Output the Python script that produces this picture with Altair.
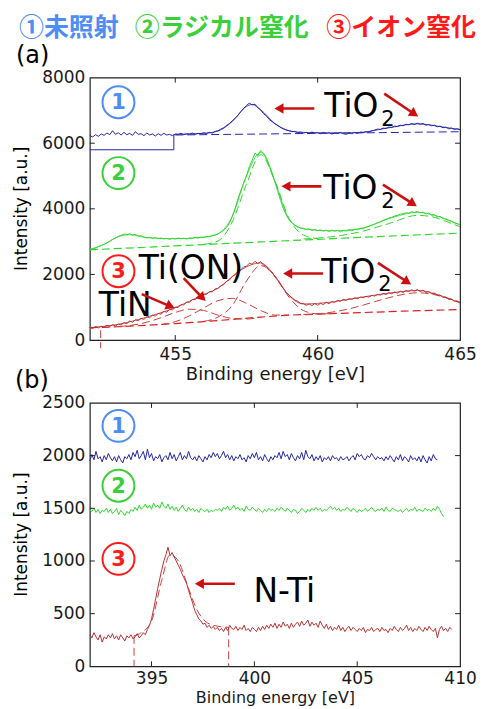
import math
import altair as alt
import pandas as pd

# ---------------- data ----------------
# panel (a): Ti 2p region, sampled every 0.1 eV from 452.0 eV
A_X0, A_STEP = 452.0, 0.1
a_blue = [
    6230, 6190, 6260, 6210, 6280, 6240, 6310, 6260, 6380, 6270,
    6320, 6250, 6330, 6260, 6300, 6240, 6350, 6270, 6290, 6230,
    6310, 6250, 6280, 6220, 6290, 6240, 6300, 6250, 6270, 6230,
    6280, 6270, 6300, 6260, 6290, 6280, 6310, 6270, 6300, 6290,
    6320, 6300, 6330, 6310, 6360, 6380, 6430, 6470, 6540, 6600,
    6680, 6760, 6850, 6960, 7060, 7150, 7220, 7170, 7190, 7080,
    7010, 6900, 6830, 6720, 6660, 6590, 6540, 6480, 6440, 6400,
    6380, 6350, 6360, 6320, 6340, 6310, 6330, 6300, 6340, 6310,
    6320, 6290, 6330, 6300, 6320, 6280, 6310, 6300, 6330, 6290,
    6270, 6310, 6290, 6330, 6300, 6340, 6320, 6350, 6340, 6380,
    6400, 6430, 6420, 6460, 6450, 6490, 6480, 6520, 6510, 6550,
    6530, 6580, 6560, 6600, 6570, 6610, 6580, 6600, 6550, 6570,
    6530, 6550, 6500, 6520, 6470, 6490, 6440, 6460, 6420, 6440,
    6410,
]
a_green = [
    2760, 2780, 2800, 2850, 2880, 2920, 2960, 3010, 3070, 3110,
    3160, 3190, 3230, 3210, 3240, 3200, 3220, 3170, 3180, 3140,
    3120, 3130, 3100, 3120, 3090, 3110, 3080, 3100, 3070, 3100,
    3080, 3110, 3090, 3100, 3080, 3110, 3100, 3130, 3110, 3140,
    3130, 3160, 3150, 3190, 3200, 3230, 3290, 3350, 3430, 3560,
    3760, 4000, 4300, 4550, 4780, 5000, 5280, 5480, 5700, 5620,
    5780, 5690, 5560, 5330, 5100, 4820, 4530, 4250, 4000, 3810,
    3660, 3560, 3500, 3450, 3420, 3400, 3370, 3390, 3340, 3370,
    3330, 3360, 3320, 3350, 3310, 3350, 3320, 3340, 3300, 3340,
    3320, 3360, 3330, 3370, 3360, 3400, 3390, 3440, 3460, 3500,
    3530, 3570, 3600, 3650, 3680, 3720, 3740, 3780, 3800, 3840,
    3850, 3880, 3870, 3910, 3890, 3920, 3880, 3900, 3850, 3870,
    3800, 3820, 3750, 3770, 3700, 3690, 3640, 3620, 3570, 3550,
    3510,
]
a_red = [
    380, 350, 410, 370, 420, 390, 450, 410, 470, 430,
    490, 460, 530, 500, 580, 540, 620, 590, 660, 630,
    710, 680, 760, 730, 810, 790, 870, 850, 930, 920,
    1000, 990, 1080, 1070, 1160, 1150, 1240, 1230, 1320, 1310,
    1400, 1390, 1480, 1470, 1560, 1570, 1660, 1690, 1790, 1830,
    1940, 1990, 2100, 2140, 2230, 2250, 2340, 2310, 2400, 2330,
    2390, 2280, 2250, 2120, 2070, 1920, 1820, 1680, 1560, 1450,
    1360, 1290, 1220, 1180, 1120, 1110, 1060, 1100, 1050, 1110,
    1060, 1120, 1080, 1150, 1110, 1170, 1150, 1210, 1180, 1240,
    1210, 1260, 1240, 1290, 1260, 1310, 1290, 1330, 1310, 1360,
    1340, 1390, 1370, 1420, 1390, 1440, 1410, 1460, 1430, 1490,
    1450, 1510, 1480, 1530, 1490, 1540, 1480, 1520, 1450, 1480,
    1410, 1430, 1360, 1370, 1300, 1310, 1240, 1250, 1180, 1190,
    1130,
]

# fitted curves / backgrounds of panel (a) as (eV, intensity) pairs
a_blue_step = [(452.0, 5800), (454.95, 5800), (454.95, 6270)]
a_blue_base = [(455.0, 6250), (465.0, 6350)]
a_blue_fit = [(455.0, 6270), (456.0, 6300), (456.5, 6370), (457.0, 6660), (457.5, 7120),
              (457.7, 7180), (458.0, 7020), (458.5, 6600), (459.0, 6380), (459.5, 6330),
              (460.5, 6310), (461.5, 6330), (462.5, 6470), (463.5, 6590), (464.5, 6480), (465.0, 6420)]
a_green_base = [(452.0, 2750), (454.0, 2830), (456.0, 2910), (458.0, 2990),
                (460.0, 3070), (462.0, 3150), (465.0, 3260)]
a_green_main = [(456.0, 2920), (456.5, 3020), (457.0, 3600), (457.5, 4750), (458.0, 5650),
                (458.5, 4850), (459.0, 3700), (459.5, 3200), (460.0, 3090)]
a_green_sat = [(459.5, 3080), (460.5, 3150), (461.5, 3300), (462.5, 3550), (463.5, 3800),
               (464.0, 3760), (464.5, 3620), (465.0, 3450)]
a_green_fit = [(452.0, 2760), (452.5, 2920), (453.0, 3150), (453.4, 3210), (454.0, 3120),
               (455.0, 3090), (456.0, 3130), (456.5, 3240), (457.0, 3770), (457.5, 5000),
               (458.0, 5720), (458.5, 4830), (459.0, 3680), (459.5, 3390), (460.5, 3330),
               (461.5, 3400), (462.5, 3700), (463.5, 3890), (464.5, 3690), (465.0, 3510)]
a_red_base = [(452.0, 375), (453.0, 405), (454.0, 450), (455.0, 500), (456.0, 560), (457.0, 630),
              (458.0, 700), (459.0, 760), (460.0, 790), (461.0, 820), (462.0, 850),
              (463.0, 880), (464.0, 905), (465.0, 930)]
a_red_tin = [(453.0, 410), (453.8, 500), (454.5, 680), (455.0, 840), (455.5, 940), (456.0, 900),
             (456.5, 760), (457.0, 660), (457.5, 640), (458.0, 700)]
a_red_tion = [(454.5, 470), (455.0, 560), (455.5, 740), (456.0, 980), (456.5, 1200), (457.0, 1270),
              (457.5, 1120), (458.0, 900), (458.5, 760), (459.0, 760)]
a_red_tio2 = [(456.0, 570), (456.5, 700), (457.0, 1050), (457.5, 1800), (458.0, 2270),
              (458.5, 1950), (459.0, 1300), (459.5, 900), (460.0, 800), (460.5, 805)]
a_red_sat = [(459.5, 780), (460.0, 800), (460.5, 850), (461.0, 930), (461.5, 1040), (462.0, 1170),
             (462.5, 1290), (463.0, 1390), (463.5, 1440), (464.0, 1400), (464.5, 1290), (465.0, 1150)]
a_red_fit = [(452.0, 380), (453.0, 480), (454.0, 700), (455.0, 990), (456.0, 1390), (456.5, 1580),
             (457.0, 1930), (457.5, 2230), (458.0, 2350), (458.5, 1950), (459.0, 1350),
             (459.5, 1100), (460.5, 1160), (461.5, 1300), (462.5, 1430), (463.5, 1510),
             (464.5, 1300), (465.0, 1130)]
a_red_vert = [(452.38, 300), (452.38, -250)]

# panel (b): N 1s region, sampled every 0.1 eV from 392.0 eV
B_X0, B_STEP = 392.0, 0.1
b_blue = [
    1950, 2010, 1960, 2040, 1970, 1990, 1940, 2000, 1960, 2020,
    1980, 1950, 1990, 1940, 2000, 1960, 1930, 1990, 1970, 2010,
    1960, 2030, 1990, 2050, 1970, 2000, 2040, 1960, 2060, 1980,
    2020, 1950, 1990, 1970, 2010, 1940, 1980, 2000, 1960, 2030,
    1970, 2010, 1950, 1990, 2030, 1960, 2000, 1970, 2040, 1980,
    1960, 1990, 1950, 2000, 1970, 1940, 1990, 1960, 2010, 1980,
    2030, 1990, 2020, 1970, 2000, 2040, 1980, 2010, 1960, 2000,
    1950, 1990, 1970, 2010, 1960, 1980, 1940, 2000, 1970, 2020,
    1980, 2030, 1960, 1990, 1950, 2010, 1970, 1940, 1990, 1960,
    2000, 1980, 2030, 1970, 2040, 1990, 2010, 1960, 2020, 1980,
    1950, 2000, 1970, 2030, 1960, 2050, 1990, 1970, 2010, 1950,
    1990, 1960, 2000, 1940, 1980, 1960, 1990, 1950, 2000, 1970,
    1980, 1950, 1990, 1960, 1970, 1990, 1950, 1980, 2000, 1960,
    2020, 1990, 2010, 1970, 1960, 2000, 1980, 2020, 1990, 1960,
    1990, 1970, 1980, 1950, 1990, 1960, 2000, 1970, 1940, 1990,
    1960, 2010, 1950, 1990, 1970, 1940, 2000, 1960, 1980, 1950,
    1990, 1940, 2000, 1960, 1930, 1990, 1950, 2010, 1970, 1960,
]
b_green = [
    1480, 1470, 1500, 1460, 1490, 1450, 1480, 1470, 1500, 1460,
    1490, 1450, 1470, 1500, 1440, 1480, 1460, 1430, 1470, 1450,
    1490, 1470, 1510, 1480, 1530, 1490, 1510, 1540, 1500, 1530,
    1490, 1550, 1510, 1530, 1500, 1560, 1520, 1500, 1540, 1490,
    1520, 1480, 1510, 1470, 1500, 1530, 1490, 1470, 1510, 1480,
    1500, 1470, 1490, 1460, 1500, 1480, 1470, 1490, 1460, 1480,
    1470, 1490, 1480, 1500, 1470, 1510, 1490, 1520, 1480, 1500,
    1530, 1490, 1510, 1480, 1500, 1470, 1520, 1490, 1480, 1510,
    1490, 1470, 1500, 1480, 1460, 1490, 1470, 1500, 1480, 1490,
    1470, 1500, 1480, 1510, 1490, 1470, 1500, 1480, 1460, 1490,
    1480, 1450, 1470, 1500, 1480, 1460, 1490, 1470, 1500, 1480,
    1510, 1480, 1500, 1470, 1490, 1480, 1500, 1520, 1490, 1510,
    1480, 1500, 1470, 1490, 1480, 1510, 1490, 1470, 1500, 1480,
    1460, 1490, 1470, 1480, 1500, 1470, 1490, 1510, 1480, 1470,
    1490, 1480, 1500, 1470, 1510, 1480, 1470, 1500, 1490, 1480,
    1470, 1490, 1460, 1480, 1500, 1470, 1490, 1480, 1510, 1470,
    1490, 1480, 1470, 1500, 1480, 1490, 1470, 1500, 1480, 1520,
    1490, 1450, 1420,
]
b_red = [
    300, 270, 320, 280, 250, 300, 230, 280, 260, 300,
    270, 310, 260, 290, 250, 300, 270, 240, 290, 270,
    300, 260, 280, 310, 270, 290, 320, 300, 350, 390,
    450, 540, 640, 740, 830, 920, 1000, 1060, 1130, 1050,
    1080, 1040, 1000, 960, 920, 870, 830, 790, 720, 660,
    600, 530, 490, 450, 430, 400, 410, 370, 390, 360,
    380, 350, 370, 340, 360, 330, 370, 340, 390, 360,
    350, 380, 340, 370, 350, 390, 340, 360, 330, 370,
    350, 330, 370, 340, 380, 350, 390, 360, 400, 370,
    410, 360, 400, 370, 420, 380, 400, 360, 410, 370,
    400, 420, 380, 430, 390, 410, 440, 380, 420, 390,
    410, 370, 430, 390, 360, 400, 350, 380, 340, 370,
    350, 390, 340, 370, 330, 360, 380, 340, 370, 350,
    330, 360, 340, 370, 320, 350, 340, 370, 330, 350,
    360, 330, 370, 340, 350, 320, 360, 340, 380, 350,
    330, 370, 340, 360, 390, 340, 370, 330, 360, 340,
    380, 350, 330, 370, 340, 380, 350, 330, 360, 270,
    350, 380, 340, 360, 330, 370, 350,
]
b_red_fit = [(394.15, 290), (394.5, 320), (395.0, 430), (395.5, 820), (395.9, 1060),
             (396.3, 1000), (396.8, 740), (397.2, 540), (397.6, 430), (398.0, 390), (398.75, 370)]
b_red_vert1 = [(394.15, 290), (394.15, 0)]
b_red_vert2 = [(398.75, 370), (398.75, 0)]

# axis ticks / labels
a_xticks = [455, 460, 465]
a_yticks = [0, 2000, 4000, 6000, 8000]
b_xticks = [395, 400, 405, 410]
b_yticks = [0, 500, 1000, 1500, 2000, 2500]

# ---------------- styling ----------------
F = "DejaVu Sans"
JP = "Noto Sans CJK JP"
BLUE_D, GREEN_D, RED_D = "#2626a6", "#2fd62f", "#b83232"
RED_DASH, RED_BASE = "#c94040", "#d42222"
C_BLUE, C_GREEN, C_RED = "#4d8df5", "#3ccf3c", "#ff1a1a"
ARROW = "#cc1010"
DASH = [8, 4]
W, HA, HB = 371, 263, 264
ONE = pd.DataFrame({"k": [0]})


def series(vals, x0, step):
    return pd.DataFrame({"x": [round(x0 + i * step, 3) for i in range(len(vals))], "y": vals})


def pts(pairs):
    return pd.DataFrame(pairs, columns=["x", "y"])


def make_enc(xs, ys, xaxis, yaxis):
    def line(df, color, width=1.0, dash=None, interp="linear"):
        kw = dict(color=color, strokeWidth=width, interpolate=interp)
        if dash:
            kw["strokeDash"] = dash
        return alt.Chart(df).mark_line(**kw).encode(
            x=alt.X("x:Q", scale=xs, axis=xaxis),
            y=alt.Y("y:Q", scale=ys, axis=yaxis),
            order=alt.Order("x:Q"),
        )
    return line


def txt(s, x, y, size, color="black", align="left", baseline="alphabetic",
        font=F, weight="normal", angle=0):
    kw = dict(text=s, fontSize=size, color=color, align=align, baseline=baseline,
              font=font, fontWeight=weight)
    if angle:
        kw["angle"] = angle
    return alt.Chart(ONE).mark_text(**kw).encode(x=alt.value(x), y=alt.value(y))


def circ_num(d, x, y, color):
    c = alt.Chart(ONE).mark_point(shape="circle", size=1024, filled=False, color=color,
                                  strokeWidth=2, opacity=1).encode(x=alt.value(x), y=alt.value(y))
    t = txt(d, x, y + 1, 21, color=color, align="center", baseline="middle", weight="bold")
    return [c, t]


def arrow(x1, y1, x2, y2, color=ARROW, width=2.6, head=110):
    dx, dy = x2 - x1, y2 - y1
    L = math.hypot(dx, dy)
    ux, uy = dx / L, dy / L
    h = math.sqrt(head) / 2 * math.sqrt(3) / 2
    cx, cy = x2 - ux * h, y2 - uy * h
    ang = math.degrees(math.atan2(dx, -dy)) % 360
    ln = alt.Chart(ONE).mark_rule(color=color, strokeWidth=width).encode(
        x=alt.value(x1), y=alt.value(y1), x2=alt.value(cx), y2=alt.value(cy))
    tri = alt.Chart(ONE).mark_point(shape="triangle-up", size=head, filled=True, color=color,
                                    opacity=1, angle=ang).encode(x=alt.value(cx), y=alt.value(cy))
    return [ln, tri]


def inner_ticks(xs, ys, xaxis, yaxis, xt, yt, w, h, L=5):
    dx = pd.DataFrame({"x": xt})
    dy = pd.DataFrame({"y": yt})
    X = alt.X("x:Q", scale=xs, axis=xaxis)
    Y = alt.Y("y:Q", scale=ys, axis=yaxis)
    m = dict(color="#222", strokeWidth=1)
    return [
        alt.Chart(dx).mark_rule(**m).encode(x=X, y=alt.value(h), y2=alt.value(h - L)),
        alt.Chart(dx).mark_rule(**m).encode(x=X, y=alt.value(0), y2=alt.value(L)),
        alt.Chart(dy).mark_rule(**m).encode(y=Y, x=alt.value(0), x2=alt.value(L)),
        alt.Chart(dy).mark_rule(**m).encode(y=Y, x=alt.value(w), x2=alt.value(w - L)),
    ]


def axes(xvals, yvals, lab_pad=7, title_pad=3, title_size=18):
    xaxis = alt.Axis(values=xvals, ticks=False, domain=False, grid=False, labelFlush=False,
                     labelOverlap=False, labelFont=F, labelFontSize=17, labelColor="#1a1a1a",
                     labelPadding=lab_pad, format="d", title="Binding energy [eV]", titleFont=F,
                     titleFontSize=title_size, titleFontWeight="normal", titleColor="#1a1a1a",
                     titlePadding=title_pad)
    yaxis = alt.Axis(values=yvals, ticks=False, domain=False, grid=False, labelFont=F,
                     labelFontSize=17, labelColor="#1a1a1a", labelPadding=5, format="d",
                     title="")
    return xaxis, yaxis


# ---------------- panel (a) ----------------
xa = alt.Scale(domain=[452, 465], nice=False, zero=False)
ya = alt.Scale(domain=[0, 8000], nice=False, zero=False)
xa_ax, ya_ax = axes(a_xticks, a_yticks)
la = make_enc(xa, ya, xa_ax, ya_ax)

layers_a = [
    la(pts(a_blue_base), BLUE_D, 1.0, DASH),
    la(pts(a_blue_step), BLUE_D, 1.0),
    la(pts(a_blue_fit), BLUE_D, 0.8, None, "monotone"),
    la(series(a_blue, A_X0, A_STEP), BLUE_D, 1.0),
    la(pts(a_green_base), GREEN_D, 1.2, DASH),
    la(pts(a_green_main), GREEN_D, 1.0, DASH, "monotone"),
    la(pts(a_green_sat), GREEN_D, 1.0, DASH, "monotone"),
    la(pts(a_green_fit), GREEN_D, 0.8, None, "monotone"),
    la(series(a_green, A_X0, A_STEP), GREEN_D, 1.0),
    la(pts(a_red_base), RED_BASE, 1.2, DASH),
    la(pts(a_red_tin), RED_DASH, 1.0, DASH, "monotone"),
    la(pts(a_red_tion), RED_DASH, 1.0, DASH, "monotone"),
    la(pts(a_red_tio2), RED_DASH, 1.0, DASH, "monotone"),
    la(pts(a_red_sat), RED_DASH, 1.0, DASH, "monotone"),
    la(pts(a_red_vert), RED_DASH, 1.0, DASH),
    la(pts(a_red_fit), RED_D, 0.8, None, "monotone"),
    la(series(a_red, A_X0, A_STEP), RED_D, 1.0),
]
layers_a += inner_ticks(xa, ya, xa_ax, ya_ax, [455, 460], [2000, 4000, 6000], W, HA)
layers_a += [
    txt("①未照射", -71, -50, 25, C_BLUE, baseline="middle", font=JP, weight="bold"),
    txt("②ラジカル窒化", 45, -50, 25, C_GREEN, baseline="middle", font=JP, weight="bold"),
    txt("③イオン窒化", 237, -50, 25, C_RED, baseline="middle", font=JP, weight="bold"),
    txt("(a)", -74, -15, 24),
    txt("Intensity [a.u.]", -68, HA / 2, 17, align="center", baseline="middle", angle=270),
    txt("TiO", 235, 39, 33), txt("2", 292, 49, 21),
    txt("TiO", 234, 122, 33), txt("2", 292, 131, 21),
    txt("TiO", 232, 205.7, 33), txt("2", 289, 214, 21),
    txt("Ti(ON)", 49, 202, 33),
    txt("TiN", 9, 239, 33),
]
layers_a += circ_num("1", 28.7, 24.7, C_BLUE)
layers_a += circ_num("2", 28.7, 95.7, C_GREEN)
layers_a += circ_num("3", 28.7, 194, C_RED)
layers_a += arrow(225, 31, 185, 31)
layers_a += arrow(295, 16, 329, 39)
layers_a += arrow(232, 109, 192, 109)
layers_a += arrow(293.7, 107.3, 327.7, 129)
layers_a += arrow(233.7, 196.3, 193.7, 196.3)
layers_a += arrow(288.7, 185.7, 322, 207.3)
layers_a += arrow(52, 217, 85, 231)
layers_a += arrow(94, 201, 116, 224)

panel_a = alt.layer(*layers_a).properties(width=W, height=HA)

# ---------------- panel (b) ----------------
xb = alt.Scale(domain=[392, 410], nice=False, zero=False)
yb = alt.Scale(domain=[0, 2500], nice=False, zero=False)
xb_ax, yb_ax = axes(b_xticks, b_yticks, lab_pad=4, title_pad=3, title_size=16)
lb = make_enc(xb, yb, xb_ax, yb_ax)

layers_b = [
    lb(series(b_blue, B_X0, B_STEP), BLUE_D, 1.0),
    lb(series(b_green, B_X0, B_STEP), GREEN_D, 1.0),
    lb(pts(b_red_fit), RED_DASH, 1.0, DASH, "monotone"),
    lb(pts(b_red_vert1), RED_DASH, 1.0, DASH),
    lb(pts(b_red_vert2), RED_DASH, 1.0, DASH),
    lb(series(b_red, B_X0, B_STEP), RED_D, 1.0),
]
layers_b += inner_ticks(xb, yb, xb_ax, yb_ax, [395, 400, 405], [500, 1000, 1500, 2000], W, HB)
layers_b += [
    txt("(b)", -75, -15, 24),
    txt("Intensity [a.u.]", -68, HB / 2, 17, align="center", baseline="middle", angle=270),
    txt("N-Ti", 164, 200, 33),
]
layers_b += circ_num("1", 28.7, 23, C_BLUE)
layers_b += circ_num("2", 28.7, 83, C_GREEN)
layers_b += circ_num("3", 28.7, 156.3, C_RED)
layers_b += arrow(145.3, 181.3, 105.3, 181.3)

panel_b = alt.layer(*layers_b).properties(width=W, height=HB)

chart = (
    alt.vconcat(panel_a, panel_b, spacing=63, bounds="flush")
    .properties(padding={"left": 4, "top": 6, "right": 4, "bottom": 2}, background="white")
    .configure_view(stroke="#222222", strokeWidth=1.2)
)
chart.save("out.html", embed_options={"renderer": "svg", "actions": False})
